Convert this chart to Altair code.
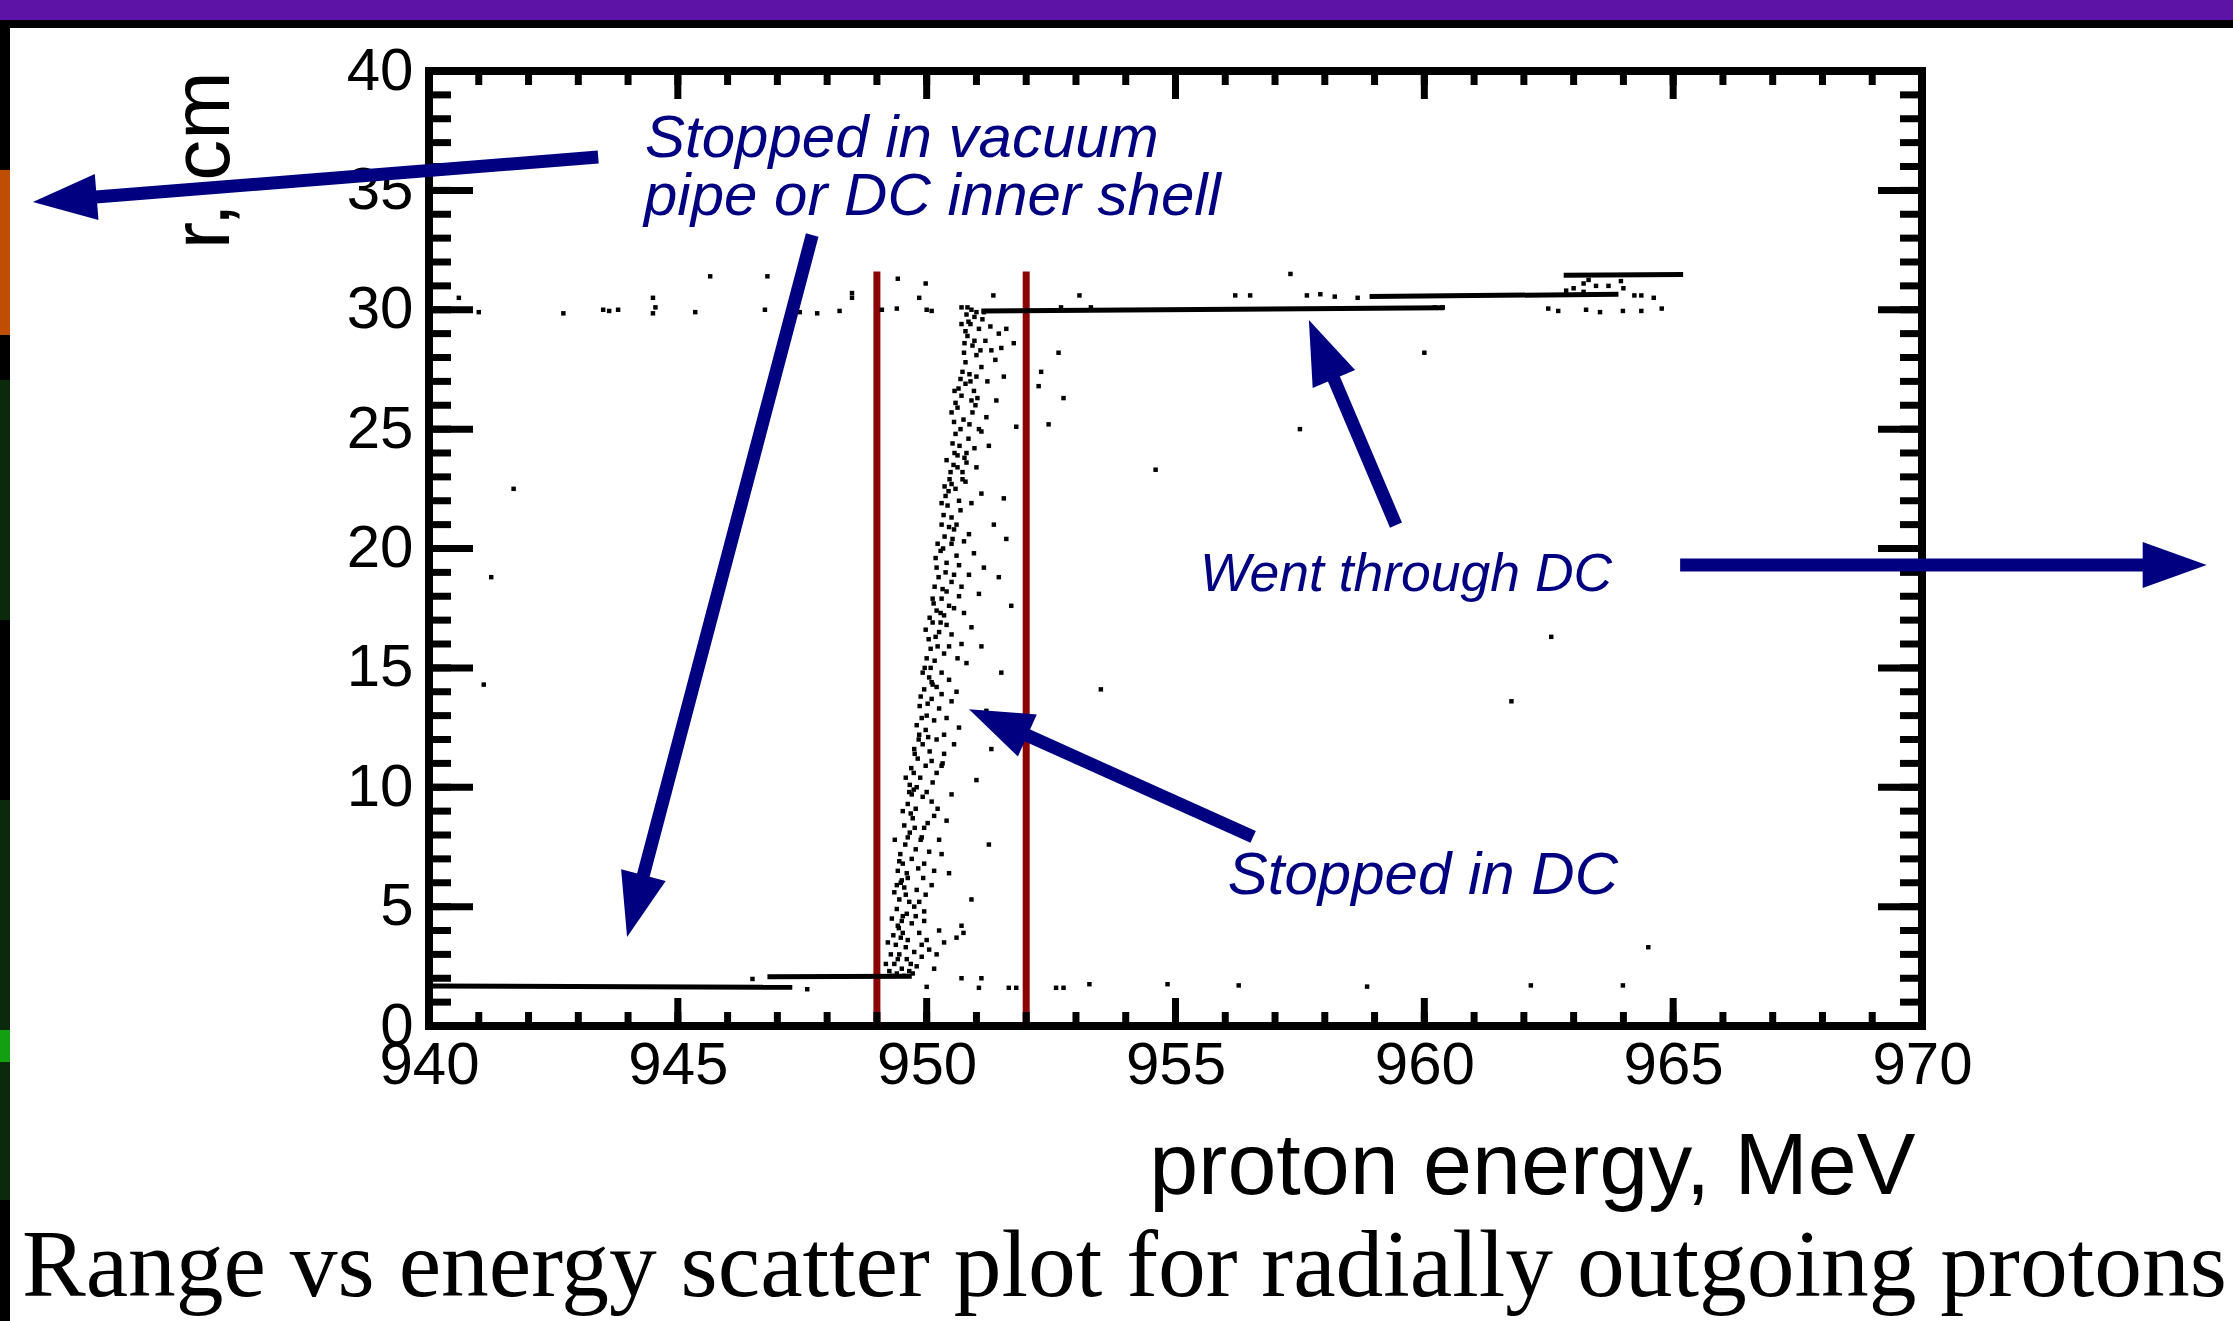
import math
import altair as alt
import pandas as pd

# ---------------- data ----------------
X_DOMAIN = [940, 970]
Y_DOMAIN = [0, 40]
X_LABELS = [940, 945, 950, 955, 960, 965, 970]
Y_LABELS = [0, 5, 10, 15, 20, 25, 30, 35, 40]
X_TICKS = list(range(940, 971))
Y_TICKS = list(range(0, 41))

# dense horizontal point bands drawn as segments
SEG_E1 = [940.0, 946.8, 951.1, 958.9, 962.8]
SEG_E2 = [947.3, 949.7, 960.4, 963.9, 965.2]
SEG_R1 = [1.68, 2.06, 29.95, 30.55, 31.45]
SEG_R2 = [1.62, 2.08, 30.08, 30.65, 31.48]

# red cut lines
CUT_E = [949.0, 952.0]
CUT_R_TOP = [31.6, 31.6]

# stopped-in-DC band (energy MeV, r cm)
BAND = [
    (949.25, 2.3), (949.30, 2.1), (949.35, 2.6), (949.40, 2.2), (949.45, 3.0), (949.50, 2.4),
    (949.55, 2.1), (949.60, 2.8), (949.65, 2.3), (949.38, 3.4), (949.48, 3.7), (949.58, 3.3),
    (949.68, 2.6), (949.28, 3.0), (949.42, 2.8), (949.52, 3.9), (949.62, 3.6), (949.72, 2.2),
    (949.33, 3.8), (949.44, 4.1), (949.75, 3.1), (949.85, 3.9), (950.00, 3.6), (950.05, 3.2),
    (949.90, 3.4),
    (949.30, 4.5), (949.40, 4.9), (949.45, 5.3), (949.50, 4.4), (949.55, 5.8), (949.60, 4.7),
    (949.65, 5.2), (949.35, 5.6), (949.48, 6.0), (949.58, 5.5), (949.70, 4.3), (949.75, 5.0),
    (949.80, 5.7), (949.42, 4.2), (949.62, 6.2), (949.52, 4.6), (949.95, 4.8), (950.10, 5.9),
    (949.42, 6.5), (949.47, 7.2), (949.52, 6.8), (949.57, 7.6), (949.60, 6.4), (949.66, 8.1),
    (949.70, 7.0), (949.55, 8.4), (949.62, 7.9), (949.72, 8.7), (949.78, 7.4), (949.50, 6.1),
    (949.68, 8.9), (949.83, 6.6), (949.76, 8.3), (949.88, 7.8), (949.45, 6.9), (949.93, 6.2),
    (950.02, 8.5),
    (949.62, 9.3), (949.66, 10.1), (949.70, 9.7), (949.74, 10.6), (949.78, 9.1), (949.82, 11.2),
    (949.87, 10.4), (949.92, 11.8), (949.76, 11.4), (949.84, 12.0), (949.69, 10.8), (949.92, 9.6),
    (949.98, 10.9), (950.03, 12.1), (949.74, 9.9), (950.10, 9.4), (950.06, 11.5), (949.65, 9.8),
    (950.20, 10.6), (950.40, 8.6), (950.30, 7.2), (949.80, 10.0),
    (949.80, 12.6), (949.86, 13.4), (949.90, 12.9), (949.95, 14.1), (950.00, 13.0), (950.05, 14.6),
    (950.10, 13.7), (949.92, 14.8), (949.98, 12.4), (950.15, 12.8), (950.08, 15.0), (950.20, 14.2),
    (949.88, 13.8), (950.25, 13.3), (950.35, 12.2), (950.50, 13.6), (950.55, 11.8), (950.45, 14.5),
    (950.02, 13.5),
    (950.00, 15.4), (950.04, 16.2), (950.08, 15.8), (950.12, 16.9), (950.16, 15.3), (950.20, 17.4),
    (950.25, 16.5), (950.30, 17.9), (950.14, 17.7), (950.22, 15.9), (950.06, 17.1), (950.35, 15.6),
    (950.40, 16.8), (950.55, 17.5), (950.70, 16.0), (950.80, 15.2), (950.65, 18.0), (949.98, 16.6),
    (950.18, 16.3),
    (950.16, 18.4), (950.20, 19.2), (950.24, 18.8), (950.28, 19.9), (950.32, 18.3), (950.36, 20.5),
    (950.40, 19.4), (950.45, 20.9), (950.30, 21.0), (950.22, 20.2), (950.50, 18.6), (950.60, 19.7),
    (950.75, 20.3), (950.85, 18.9), (950.38, 19.0), (950.18, 19.6), (950.33, 20.0),
    (950.34, 21.4), (950.38, 22.2), (950.42, 21.8), (950.46, 22.9), (950.50, 21.3), (950.54, 23.5),
    (950.58, 22.5), (950.62, 23.9), (950.48, 23.2), (950.40, 23.7), (950.68, 21.6), (950.78, 22.8),
    (950.90, 21.9), (951.00, 23.4), (950.56, 24.0), (950.36, 22.6), (950.44, 22.4),
    (950.52, 24.4), (950.55, 25.3), (950.58, 24.8), (950.62, 25.9), (950.66, 24.3), (950.70, 26.4),
    (950.74, 25.4), (950.78, 26.9), (950.64, 26.7), (950.58, 26.1), (950.84, 24.6), (950.92, 25.7),
    (951.02, 26.3), (951.10, 24.9), (951.20, 25.5), (950.56, 26.6), (950.88, 27.0), (950.68, 25.0),
    (950.72, 27.4), (950.75, 28.2), (950.78, 27.8), (950.82, 28.9), (950.86, 27.3), (950.88, 29.4),
    (950.92, 28.5), (950.96, 29.7), (950.84, 29.5), (950.78, 29.1), (951.00, 28.1), (951.05, 29.2),
    (951.10, 27.6), (951.18, 28.7), (951.28, 29.3), (951.38, 27.9), (950.76, 28.6), (950.80, 29.8),
    (951.12, 29.6), (950.90, 30.0), (951.00, 29.9),
    (951.40, 26.2), (951.55, 22.1), (951.70, 17.6), (951.50, 14.8), (951.80, 25.1), (951.30, 11.6),
    (951.60, 20.4), (951.45, 18.8), (951.20, 13.2), (951.00, 10.3), (951.65, 12.9), (951.75, 28.6),
    (952.30, 27.4), (952.25, 26.8), (952.45, 25.2), (952.65, 28.2), (952.75, 26.3), (951.25, 7.6),
    (950.90, 5.3), (950.70, 4.2), (950.60, 3.7), (951.10, 15.9), (951.35, 21.0), (951.15, 19.2),
]
# wider halo of the same band
BAND_HALO = [
    (949.80, 2.5), (949.90, 2.9), (950.15, 2.4), (950.20, 3.0), (949.95, 4.4), (950.25, 4.0),
    (949.78, 4.6), (950.35, 3.5), (949.18, 2.6), (949.22, 3.5),
    (949.85, 5.2), (949.95, 6.8), (950.05, 7.3), (950.15, 6.5), (949.90, 7.9), (950.25, 7.8),
    (949.40, 5.9), (949.36, 7.8), (950.45, 6.4), (949.98, 5.5),
    (949.95, 8.3), (950.00, 9.8), (950.12, 10.2), (950.22, 9.1), (950.30, 10.9), (949.58, 10.4),
    (950.50, 9.7), (950.15, 8.8), (949.52, 9.0), (950.35, 11.4),
    (950.10, 11.1), (950.20, 12.0), (950.30, 13.9), (950.40, 12.9), (949.75, 11.6), (950.65, 12.5),
    (950.32, 11.0), (950.12, 14.3), (949.85, 12.2), (950.60, 14.0),
    (950.30, 14.8), (950.45, 15.9), (950.50, 16.4), (950.28, 16.9), (949.96, 15.0), (950.62, 15.4),
    (950.35, 17.2), (950.90, 16.7), (950.10, 14.4), (950.75, 17.3),
    (950.45, 17.6), (950.55, 18.9), (950.65, 19.3), (950.40, 18.2), (950.12, 17.9), (950.70, 18.4),
    (950.95, 19.8), (950.50, 20.2), (950.28, 17.3), (951.05, 18.1),
    (950.55, 20.8), (950.65, 22.0), (950.72, 22.9), (950.60, 21.0), (950.30, 21.9), (950.85, 20.6),
    (950.50, 22.7), (951.10, 22.3), (950.80, 23.6), (950.52, 20.4),
    (950.72, 23.2), (950.80, 24.0), (950.86, 25.2), (950.96, 24.2), (950.50, 25.7), (950.76, 23.8),
    (951.05, 25.0), (950.62, 23.4), (951.25, 24.3), (950.98, 26.0),
    (950.90, 26.2), (951.00, 27.2), (950.96, 28.7), (951.08, 28.3), (950.68, 27.1), (951.15, 29.9),
    (950.70, 29.4), (951.22, 27.0), (951.30, 28.3), (950.95, 26.6), (951.45, 29.0), (951.50, 28.4),
    (951.60, 29.2), (951.55, 27.2),
]

# scattered points near r = 30
ROW30 = [
    (940.6, 30.5), (941.0, 29.9), (942.7, 29.85), (943.5, 30.0), (943.62, 29.95), (943.8, 30.0),
    (944.5, 30.5), (944.55, 30.1), (944.5, 29.85), (945.35, 29.9), (945.65, 31.4), (946.8, 31.4),
    (946.75, 30.0), (947.45, 29.9), (947.8, 29.85), (948.25, 29.95), (948.5, 30.5), (948.5, 30.7),
    (949.1, 30.0), (949.4, 30.05), (949.42, 31.3), (949.85, 30.5), (949.98, 31.1), (950.0, 30.0),
    (950.1, 29.95), (950.7, 30.1), (950.82, 30.1), (951.34, 30.6), (952.7, 30.1), (953.07, 30.6),
    (953.3, 30.1), (956.2, 30.6), (956.5, 30.6), (957.31, 31.5), (957.64, 30.6), (957.91, 30.65),
    (958.2, 30.55), (958.66, 30.5), (960.21, 30.1), (960.37, 30.1), (962.49, 30.05), (962.69, 29.95),
    (963.25, 30.0), (963.53, 29.9), (963.99, 29.95), (964.36, 29.95), (964.77, 30.05), (962.85, 30.8),
    (963.0, 30.9), (963.2, 31.1), (963.3, 31.25), (963.45, 31.0), (963.7, 31.0), (963.95, 31.2),
    (964.0, 30.9), (963.2, 30.75), (964.22, 30.6), (964.36, 30.6), (964.61, 30.5),
]
# isolated points
MISC = [
    (941.7, 22.5), (941.25, 18.8), (941.1, 14.3), (957.5, 25.0), (954.6, 23.3), (953.5, 14.1),
    (962.55, 16.3), (961.75, 13.6), (964.5, 3.3), (960.0, 28.2), (950.74, 3.9),
]
# points near the bottom line
BOTTOM = [
    (946.5, 1.97), (947.6, 1.54), (950.0, 1.64), (950.7, 2.0), (951.1, 2.0), (951.05, 1.6),
    (951.65, 1.6), (951.8, 1.6), (952.6, 1.6), (952.75, 1.6), (953.27, 1.75), (954.84, 1.75),
    (956.27, 1.7), (958.85, 1.65), (962.14, 1.7), (963.99, 1.7),
]

# annotations
LABEL_TEXT = ["Stopped in vacuum", "pipe or DC inner shell", "Went through DC", "Stopped in DC"]
LABEL_E = [944.34, 944.32, 955.49, 956.05]
LABEL_R = [36.4, 33.95, 18.22, 5.53]
LABEL_SIZE = [60, 60, 53.5, 60]

ARROW_E0 = [943.40, 947.70, 959.43, 956.56, 965.14]
ARROW_R0 = [36.40, 33.13, 20.98, 7.92, 19.31]
ARROW_E1 = [932.04, 943.98, 957.68, 950.85, 975.72]
ARROW_R1 = [34.51, 3.73, 29.57, 13.27, 19.31]

CAPTION = "Range vs energy scatter plot for radially outgoing protons"
X_TITLE = "proton energy, MeV"
Y_TITLE = "r, cm"

# ---------------- layout / style ----------------
W, H = 1493, 955
PAD_L, PAD_T = 429, 71
PAGE_W, PAGE_H = 2233, 1321
NAVY = "#000080"
DARKRED = "#8B0505"
SANS = "Liberation Sans"
SERIF = "Liberation Serif"
HEAD_LEN = 64
HEAD_SIZE = (2 * HEAD_LEN) ** 2

xs = alt.Scale(domain=X_DOMAIN, nice=False, zero=False)
ys = alt.Scale(domain=Y_DOMAIN, nice=False, zero=False)

x_axis = alt.Axis(
    values=X_LABELS, format="d", labelFont=SANS, labelFontSize=60, labelColor="black",
    labelPadding=10, labelFlush=False, labelOverlap=False, ticks=False, domain=False,
    grid=False, title=X_TITLE, titleFont=SANS, titleFontSize=88, titleFontWeight="normal",
    titleColor="black", titleAlign="right", titleBaseline="alphabetic",
    titleX=W - 7, titleY=167,
)
y_axis = alt.Axis(
    values=Y_LABELS, format="d", labelFont=SANS, labelFontSize=60, labelColor="black",
    labelPadding=16, labelFlush=False, labelOverlap=False, ticks=False, domain=False,
    grid=False, title=Y_TITLE, titleFont=SANS, titleFontSize=82, titleFontWeight="normal",
    titleColor="black", titleAngle=270, titleAlign="right", titleBaseline="alphabetic",
    titleX=-201, titleY=0,
)


def X(field):
    return alt.X(field, scale=xs, axis=x_axis)


def Y(field):
    return alt.Y(field, scale=ys, axis=y_axis)


one = pd.DataFrame({"d": [0]})


def rect(x0, x1, y0, y1, color):
    return alt.Chart(one).mark_rect(color=color, opacity=1).encode(
        x=alt.value(x0), x2=alt.value(x1), y=alt.value(y0), y2=alt.value(y1)
    )


# slide decoration around the figure
deco = [
    rect(-PAD_L, PAGE_W - PAD_L, -PAD_T, 20 - PAD_T, "#5D14A6"),
    rect(-PAD_L, PAGE_W - PAD_L, 20 - PAD_T, 28 - PAD_T, "#000000"),
    rect(-PAD_L, 10 - PAD_L, 28 - PAD_T, PAGE_H - PAD_T, "#000000"),
    rect(-PAD_L, 10 - PAD_L, 170 - PAD_T, 335 - PAD_T, "#C04E02"),
    rect(-PAD_L, 10 - PAD_L, 380 - PAD_T, 620 - PAD_T, "#0B2A0B"),
    rect(-PAD_L, 10 - PAD_L, 800 - PAD_T, 1030 - PAD_T, "#0B2A0B"),
    rect(-PAD_L, 10 - PAD_L, 1030 - PAD_T, 1062 - PAD_T, "#12A012"),
    rect(-PAD_L, 10 - PAD_L, 1062 - PAD_T, 1200 - PAD_T, "#0B2A0B"),
]

# points
pts = BAND + BAND_HALO + ROW30 + MISC + BOTTOM
pts_df = pd.DataFrame({"E": [p[0] for p in pts], "r": [p[1] for p in pts]})
points = alt.Chart(pts_df).mark_square(size=20, color="black", opacity=1).encode(
    x=X("E:Q"), y=Y("r:Q"),
)

seg_df = pd.DataFrame({"E1": SEG_E1, "E2": SEG_E2, "R1": SEG_R1, "R2": SEG_R2})
segments = alt.Chart(seg_df).mark_rule(color="black", strokeWidth=5).encode(
    x=X("E1:Q"), x2="E2:Q", y=Y("R1:Q"), y2="R2:Q",
)

cut_df = pd.DataFrame({"E": CUT_E, "r0": [0, 0], "r1": CUT_R_TOP})
cuts = alt.Chart(cut_df).mark_rule(color=DARKRED, strokeWidth=7).encode(
    x=X("E:Q"), y=Y("r0:Q"), y2="r1:Q",
)

# inward ticks on all four sides
xt_df = pd.DataFrame({"E": X_TICKS})
xt_major_df = pd.DataFrame({"E": [v for v in X_TICKS if v % 5 == 0]})
yt_df = pd.DataFrame({"r": Y_TICKS})
yt_major_df = pd.DataFrame({"r": [v for v in Y_TICKS if v % 5 == 0]})


def xticks(df, y0, y1):
    return alt.Chart(df).mark_rule(color="black", strokeWidth=7).encode(
        x=X("E:Q"), y=alt.value(y0), y2=alt.value(y1)
    )


def yticks(df, x0, x1):
    return alt.Chart(df).mark_rule(color="black", strokeWidth=7).encode(
        y=Y("r:Q"), x=alt.value(x0), x2=alt.value(x1)
    )


ticks = [
    xticks(xt_df, H, H - 14), xticks(xt_major_df, H, H - 28),
    xticks(xt_df, 0, 14), xticks(xt_major_df, 0, 28),
    yticks(yt_df, 0, 22), yticks(yt_major_df, 0, 44),
    yticks(yt_df, W, W - 22), yticks(yt_major_df, W, W - 44),
]

# arrows: shaft ends at the base of a triangular head
sx = W / (X_DOMAIN[1] - X_DOMAIN[0])
sy = H / (Y_DOMAIN[1] - Y_DOMAIN[0])
shaft_e, shaft_r, ang = [], [], []
for e0, r0, e1, r1 in zip(ARROW_E0, ARROW_R0, ARROW_E1, ARROW_R1):
    dx = (e1 - e0) * sx
    dy = -(r1 - r0) * sy
    L = math.hypot(dx, dy)
    ux, uy = dx / L, dy / L
    k = HEAD_LEN - 4
    shaft_e.append(e1 - k * ux / sx)
    shaft_r.append(r1 + k * uy / sy)
    ang.append(math.degrees(math.atan2(ux, -uy)) % 360)

arr_df = pd.DataFrame({
    "E0": ARROW_E0, "R0": ARROW_R0, "E1": ARROW_E1, "R1": ARROW_R1,
    "Es": shaft_e, "Rs": shaft_r, "ang": ang,
})
shafts = alt.Chart(arr_df).mark_rule(color=NAVY, strokeWidth=13, strokeCap="butt").encode(
    x=X("E0:Q"), x2="Es:Q", y=Y("R0:Q"), y2="Rs:Q",
)
heads = alt.Chart(arr_df).mark_point(
    shape="M0,0L-0.36,1L0.36,1Z", filled=True, size=HEAD_SIZE, color=NAVY, opacity=1, strokeWidth=0
).encode(
    x=X("E1:Q"), y=Y("R1:Q"),
    angle=alt.Angle("ang:Q", scale=None),
)

lab_df = pd.DataFrame({"t": LABEL_TEXT, "E": LABEL_E, "r": LABEL_R, "s": LABEL_SIZE})
labels = alt.Chart(lab_df).mark_text(
    align="left", baseline="alphabetic", font=SANS, fontStyle="italic", color=NAVY
).encode(
    x=X("E:Q"), y=Y("r:Q"), text="t:N",
    size=alt.Size("s:Q", scale=None, legend=None),
)

cap_df = pd.DataFrame({"t": [CAPTION]})
caption = alt.Chart(cap_df).mark_text(
    align="left", baseline="alphabetic", font=SERIF, fontSize=95.5, color="black"
).encode(x=alt.value(22 - PAD_L), y=alt.value(1296 - PAD_T), text="t:N")

chart = alt.layer(
    *deco, cuts, segments, points, *ticks, shafts, heads, labels, caption
).properties(
    width=W, height=H,
    padding={"left": PAD_L, "top": PAD_T, "right": PAGE_W - PAD_L - W, "bottom": PAGE_H - PAD_T - H},
    autosize=alt.AutoSizeParams(type="none"),
    background="white",
).configure_view(stroke="black", strokeWidth=8)

chart.save("out.html", embed_options={"renderer": "svg", "actions": False})
